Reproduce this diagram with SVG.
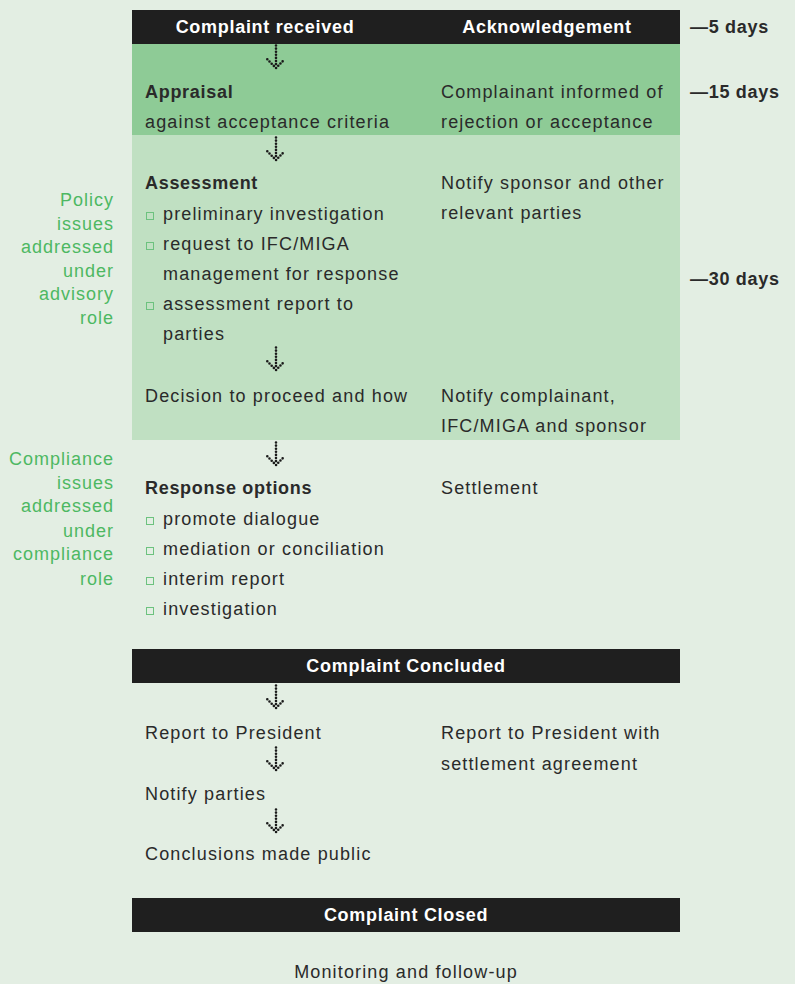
<svg xmlns="http://www.w3.org/2000/svg" xmlns:xlink="http://www.w3.org/1999/xlink" width="795" height="984" viewBox="0 0 795 984">
<style>
  text { font-family: "Liberation Sans", Arial, sans-serif; font-size: 18px; fill: #2a2a2a; letter-spacing: 1.15px; }
  .b { font-weight: bold; letter-spacing: 0.7px; }
  .w { fill: #ffffff; font-weight: bold; letter-spacing: 0.7px; }
  .g { fill: #4db862; text-anchor: end; letter-spacing: 1px; }
  .c { text-anchor: middle; }
  .bar { fill: #1f1f1f; }
  .sq { fill: none; stroke: #6cc27e; stroke-width: 1; }
  .dot { fill: none; stroke: #1a1a1a; stroke-width: 2.6; stroke-linecap: round; stroke-dasharray: 0 3.1; }
</style>
<defs>
  <g id="arr">
    <path class="dot" d="M0,1.5 V21.5"/>
    <path class="dot" d="M-8.7,15.3 L0,24 L8.7,15.3"/>
  </g>
</defs>
<rect x="0" y="0" width="795" height="984" fill="#e3eee3"/>

<g id="bands">
  <rect x="132" y="44" width="548" height="91" fill="#8ecb96"/>
  <rect x="132" y="135" width="548" height="305" fill="#c0e0c2"/>
</g>

<g id="complaint-received">
  <rect class="bar" x="132" y="10" width="548" height="34"/>
  <text class="w c" x="265" y="33">Complaint received</text>
  <text class="w c" x="547" y="33">Acknowledgement</text>
</g>

<g id="days">
  <text class="b" x="690" y="33">—5 days</text>
  <text class="b" x="690" y="98">—15 days</text>
  <text class="b" x="690" y="285">—30 days</text>
</g>

<g id="appraisal">
  <text class="b" x="145" y="98">Appraisal</text>
  <text x="145" y="128">against acceptance criteria</text>
</g>
<g id="appraisal-result">
  <text x="441" y="98">Complainant informed of</text>
  <text x="441" y="128">rejection or acceptance</text>
</g>

<g id="policy-label">
  <text class="g" x="114" y="206">Policy</text>
  <text class="g" x="114" y="230">issues</text>
  <text class="g" x="114" y="253">addressed</text>
  <text class="g" x="114" y="277">under</text>
  <text class="g" x="114" y="300">advisory</text>
  <text class="g" x="114" y="324">role</text>
</g>

<g id="assessment">
  <text class="b" x="145" y="189">Assessment</text>
  <rect class="sq" x="146.5" y="212.5" width="7" height="7"/>
  <text x="163" y="220">preliminary investigation</text>
  <rect class="sq" x="146.5" y="242.5" width="7" height="7"/>
  <text x="163" y="250">request to IFC/MIGA</text>
  <text x="163" y="280">management for response</text>
  <rect class="sq" x="146.5" y="302.5" width="7" height="7"/>
  <text x="163" y="310">assessment report to</text>
  <text x="163" y="340">parties</text>
</g>
<g id="notify-sponsor">
  <text x="441" y="189">Notify sponsor and other</text>
  <text x="441" y="219">relevant parties</text>
</g>

<g id="decision">
  <text x="145" y="402">Decision to proceed and how</text>
</g>
<g id="notify-complainant">
  <text x="441" y="402">Notify complainant,</text>
  <text x="441" y="432">IFC/MIGA and sponsor</text>
</g>

<g id="compliance-label">
  <text class="g" x="114" y="465">Compliance</text>
  <text class="g" x="114" y="489">issues</text>
  <text class="g" x="114" y="512">addressed</text>
  <text class="g" x="114" y="537">under</text>
  <text class="g" x="114" y="560">compliance</text>
  <text class="g" x="114" y="585">role</text>
</g>

<g id="response-options">
  <text class="b" x="145" y="494">Response options</text>
  <rect class="sq" x="146.5" y="517.5" width="7" height="7"/>
  <text x="163" y="525">promote dialogue</text>
  <rect class="sq" x="146.5" y="547.5" width="7" height="7"/>
  <text x="163" y="555">mediation or conciliation</text>
  <rect class="sq" x="146.5" y="577.5" width="7" height="7"/>
  <text x="163" y="585">interim report</text>
  <rect class="sq" x="146.5" y="607.5" width="7" height="7"/>
  <text x="163" y="615">investigation</text>
</g>
<g id="settlement">
  <text x="441" y="494">Settlement</text>
</g>

<g id="complaint-concluded">
  <rect class="bar" x="132" y="649" width="548" height="34"/>
  <text class="w c" x="406" y="672">Complaint Concluded</text>
</g>

<g id="report-president">
  <text x="145" y="739">Report to President</text>
</g>
<g id="report-settlement">
  <text x="441" y="739">Report to President with</text>
  <text x="441" y="770">settlement agreement</text>
</g>
<g id="notify-parties">
  <text x="145" y="800">Notify parties</text>
</g>
<g id="conclusions-public">
  <text x="145" y="860">Conclusions made public</text>
</g>

<g id="complaint-closed">
  <rect class="bar" x="132" y="898" width="548" height="34"/>
  <text class="w c" x="406" y="921">Complaint Closed</text>
</g>

<g id="monitoring">
  <text class="c" x="406" y="978">Monitoring and follow-up</text>
</g>

<g id="connectors">
  <use xlink:href="#arr" x="276" y="44"/>
  <use xlink:href="#arr" x="276" y="136"/>
  <use xlink:href="#arr" x="276" y="346"/>
  <use xlink:href="#arr" x="276" y="441"/>
  <use xlink:href="#arr" x="276" y="684"/>
  <use xlink:href="#arr" x="276" y="746"/>
  <use xlink:href="#arr" x="276" y="808"/>
</g>
</svg>
